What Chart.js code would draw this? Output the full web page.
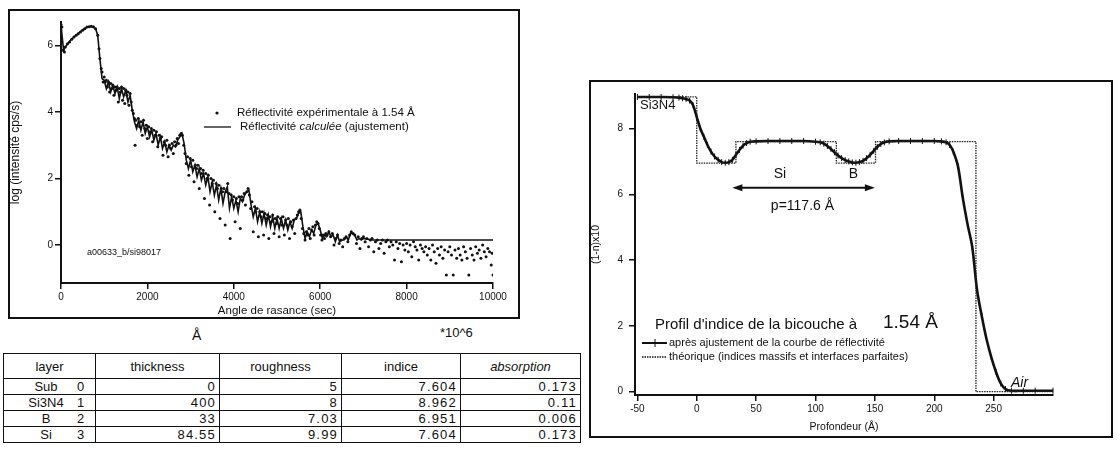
<!DOCTYPE html>
<html lang="fr">
<head>
<meta charset="UTF-8">
<title>Réflectivité et profil d'indice</title>
<script src="https://cdn.jsdelivr.net/npm/chart.js"></script>
<style>
    body { margin: 0; width: 1120px; height: 457px; background: #fff; position: relative; overflow: hidden;
           font-family: "Liberation Sans", Arial, sans-serif; color: #111; }
    .frame { position: absolute; border: 2px solid #111; box-sizing: border-box; }
    canvas { position: absolute; }
    .unit { position: absolute; font-size: 14px; }
    table { position: absolute; left: 3px; top: 353px; border-collapse: collapse; table-layout: fixed; }
    th, td { border: 1.5px solid #111; padding: 0 3px; }
    th { height: 24px; font-weight: normal; font-size: 13px; text-align: center; }
    tbody tr { height: 16px; }
    td { line-height: 13px; font-size: 13px; text-align: right; letter-spacing: 1.2px; }
    td.layer { text-align: left; letter-spacing: 0; }
    td.layer span.n { display: inline-block; width: 62px; text-align: center; margin-left: 8px; }
    th.abs { font-style: italic; }
</style>
</head>
<body>
<div class="frame" style="left:8px; top:9px; width:512px; height:310px;"></div>
<canvas id="refl" width="511" height="308" style="left:8px; top:10px;"></canvas>

<div class="frame" style="left:589px; top:80px; width:524px; height:358px;"></div>
<canvas id="profil" width="522" height="356" style="left:590px; top:81px;"></canvas>

<div class="unit" style="left:192px; top:327px;">Å</div>
<div class="unit" style="left:440px; top:325px; font-size:13px;">*10^6</div>

<table>
    <colgroup>
        <col style="width:92px"><col style="width:124px"><col style="width:122px"><col style="width:119px"><col style="width:120px">
    </colgroup>
    <thead>
        <tr><th>layer</th><th>thickness</th><th>roughness</th><th>indice</th><th class="abs">absorption</th></tr>
    </thead>
    <tbody id="rows"></tbody>
</table>

<script>
// ---- réflectivité (gauche) ----
const expX = [0, 20, 50, 80, 100, 150, 200, 250, 300, 350, 400, 450, 500, 550, 600, 650, 700, 750, 800, 850, 880, 900, 930,
    950, 975, 1000, 1025, 1050, 1075, 1100, 1125, 1150, 1175, 1200, 1225, 1250, 1275, 1300, 1325, 1350, 1375, 1400, 1425,
    1450, 1475, 1500, 1525, 1550, 1575, 1600, 1625, 1650, 1675, 1700, 1715, 1730, 1760, 1790, 1820, 1850, 1880, 1910, 1940,
    1970, 2000, 2030, 2060, 2090, 2120, 2150, 2180, 2210, 2240, 2270, 2300, 2330, 2360, 2390, 2420, 2450, 2480, 2510, 2540,
    2570, 2600, 2630, 2660, 2690, 2720, 2750, 2780, 2810, 2840, 2870, 2900, 2930, 2960, 2990, 3020, 3050, 3080, 3110, 3140,
    3170, 3200, 3230, 3260, 3290, 3320, 3350, 3380, 3410, 3440, 3470, 3500, 3530, 3560, 3590, 3620, 3650, 3680, 3710, 3740,
    3770, 3800, 3830, 3860, 3890, 3915, 3940, 3970, 4000, 4030, 4060, 4090, 4120, 4150, 4180, 4210, 4240, 4270, 4300, 4330,
    4360, 4390, 4420, 4450, 4480, 4510, 4540, 4570, 4600, 4630, 4660, 4690, 4720, 4750, 4780, 4810, 4840, 4870, 4900, 4930,
    4960, 4990, 5020, 5050, 5080, 5110, 5140, 5170, 5200, 5230, 5260, 5290, 5320, 5350, 5380, 5410, 5440, 5470, 5500, 5530,
    5560, 5590, 5620, 5650, 5680, 5710, 5740, 5770, 5800, 5830, 5860, 5890, 5920, 5950, 5980, 6010, 6040, 6070, 6100, 6130,
    6160, 6200, 6240, 6280, 6320, 6360, 6400, 6440, 6480, 6520, 6560, 6600, 6640, 6680, 6720, 6760, 6800, 6840, 6880, 6920,
    6960, 7000, 7040, 7080, 7120, 7160, 7200, 7240, 7280, 7320, 7360, 7400, 7440, 7480, 7520, 7560, 7600, 7640, 7680, 7720,
    7760, 7800, 7840, 7880, 7920, 7960, 8000, 8040, 8080, 8120, 8160, 8200, 8240, 8280, 8320, 8360, 8400, 8440, 8480, 8520,
    8560, 8600, 8640, 8680, 8720, 8760, 8800, 8840, 8880, 8920, 8960, 9000, 9040, 9080, 9120, 9160, 9200, 9240, 9280, 9320,
    9360, 9400, 9440, 9480, 9520, 9560, 9600, 9640, 9680, 9720, 9760, 9800, 9840, 9880, 9920, 9960, 9980, 10000];
const expY = [6.62, 6.55, 5.85, 5.8, 5.95, 6.05, 6.1, 6.18, 6.25, 6.3, 6.35, 6.4, 6.45, 6.5, 6.55, 6.56, 6.57, 6.56, 6.5, 6.3, 5.9, 5.6, 5.3,
    5.2, 4.9, 5.05, 4.9, 4.95, 4.75, 4.9, 4.6, 4.85, 4.7, 4.8, 4.5, 4.75, 4.65, 4.75, 4.3, 4.7, 4.6, 4.75, 4.35,
    4.7, 4.25, 4.65, 4.5, 4.6, 4.2, 4.55, 4.3, 4.05, 3.95, 3.8, 3.0, 3.75, 3.6, 3.8, 3.55, 3.7, 3.3, 3.75, 3.5,
    3.6, 3.2, 3.55, 3.4, 3.5, 3.1, 3.45, 3.3, 3.4, 2.95, 3.3, 3.2, 3.25, 2.7, 3.1, 3.0, 3.15, 2.65, 3.0, 2.9,
    3.05, 2.75, 3.1, 3.0, 3.2, 3.05, 3.3, 3.35, 3.3, 3.0, 2.75, 2.45, 2.65, 2.1, 2.6, 2.35, 2.55, 1.9, 2.4, 2.3,
    2.4, 1.7, 2.3, 2.15, 2.25, 1.4, 2.15, 2.0, 2.1, 1.2, 2.0, 1.85, 1.95, 1.0, 1.85, 1.7, 1.8, 0.8, 1.7, 1.6,
    1.7, 0.6, 1.6, 1.85, 1.55, 0.2, 1.5, 1.35, 1.45, 0.7, 1.4, 1.25, 1.45, 0.5, 1.45, 1.35, 1.55, 1.2, 1.6, 1.7,
    1.5, 1.1, 1.3, 0.4, 1.15, 1.0, 1.1, 0.25, 1.0, 0.85, 1.0, 0.3, 0.95, 0.8, 0.9, 0.2, 0.85, 0.7, 0.9, 0.35,
    0.8, 0.65, 0.85, 0.25, 0.8, 0.6, 0.85, 0.3, 0.75, 0.6, 0.8, 0.2, 0.7, 0.55, 0.75, 0.35, 0.8, 0.9, 1.0, 1.05,
    0.8, 0.5, 0.35, 0.15, 0.4, 0.3, 0.5, 0.2, 0.45, 0.55, 0.3, 0.6, 0.7, 0.65, 0.5, 0.3, 0.15, 0.3, 0.2, 0.35,
    0.3, 0.4, 0.25, 0.35, 0.0, 0.2, 0.3, 0.05, 0.15, -0.05, 0.2, 0.25, 0.1, 0.3, 0.4, 0.35, 0.3, 0.05, 0.25, -0.1,
    0.2, 0.25, 0.1, 0.2, -0.05, 0.15, 0.2, -0.2, 0.1, 0.15, -0.1, 0.05, 0.15, -0.25, 0.1, 0.15, -0.05, 0.1, 0.0, -0.45,
    0.1, -0.1, 0.05, -0.5, 0.0, -0.15, 0.05, -0.2, 0.0, -0.35, 0.1, -0.05, -0.15, -0.45, 0.0, -0.1, -0.2, -0.05, -0.3, -0.1,
    -0.45, 0.0, -0.2, -0.55, -0.1, -0.3, -0.05, -0.4, -0.15, -0.9, -0.2, -0.05, -0.3, -0.9, -0.15, -0.4, -0.1, -0.3, -0.45, -0.05,
    -0.2, -0.4, -0.9, -0.1, -0.3, -0.45, -0.05, -0.25, -0.15, -0.4, 0.0, -0.2, -0.35, -0.1, -0.2, -0.6, -0.25, -0.9];

const calcX = [0, 60, 100, 200, 300, 400, 500, 600, 700, 800, 850,
    900, 950, 1000, 1050, 1100, 1150, 1200, 1250, 1300, 1350, 1400, 1450, 1500, 1550, 1600, 1650, 1700, 1750, 1800, 1850,
    1900, 1950, 2000, 2050, 2100, 2150, 2200, 2250, 2300, 2350, 2400, 2450, 2500, 2550, 2600, 2650, 2700, 2750, 2800, 2850,
    2900, 2950, 3000, 3050, 3100, 3150, 3200, 3250, 3300, 3350, 3400, 3450, 3500, 3550, 3600, 3650, 3700, 3750, 3800, 3850,
    3900, 3950, 4000, 4050, 4100, 4150, 4200, 4250, 4300, 4350, 4400, 4450, 4500, 4550, 4600, 4650, 4700, 4750, 4800, 4850,
    4900, 4950, 5000, 5050, 5100, 5150, 5200, 5250, 5300, 5350, 5400, 5450, 5500, 5550, 5600, 5650, 5700, 5750, 5800, 5850,
    5900, 5950, 6000, 6050, 6100, 6150, 6200, 6250, 6300, 6350, 6400, 6450, 6500, 6550, 6600, 6650, 6700, 6750, 6800, 6850,
    6900, 6950, 7000, 7200, 8000, 9000, 10000];
const calcY = [6.6, 5.85, 5.95, 6.12, 6.25, 6.36, 6.46, 6.54, 6.57, 6.5, 6.3,
    5.6, 5.0, 4.95, 4.7, 4.9, 4.6, 4.8, 4.55, 4.75, 4.4, 4.7, 4.45, 4.65, 4.3, 4.5, 4.05, 3.7, 3.5, 3.75, 3.45,
    3.7, 3.35, 3.55, 3.25, 3.45, 3.15, 3.35, 3.0, 3.25, 2.9, 3.1, 2.8, 3.0, 2.85, 3.0, 2.95, 3.15, 3.25, 3.35, 3.05,
    2.55, 2.3, 2.55, 2.2, 2.4, 2.05, 2.3, 1.95, 2.15, 1.8, 2.05, 1.6, 1.9, 1.5, 1.8, 1.35, 1.7, 1.25, 1.6, 1.75,
    1.1, 1.45, 1.1, 1.35, 1.0, 1.4, 1.3, 1.5, 1.6, 1.65, 1.2, 0.85, 1.1, 0.7, 1.0, 0.65, 0.95, 0.6, 0.9, 0.55,
    0.85, 0.5, 0.8, 0.5, 0.8, 0.5, 0.75, 0.45, 0.7, 0.5, 0.75, 0.8, 0.95, 1.0, 0.55, 0.2, 0.4, 0.25, 0.45, 0.35,
    0.6, 0.65, 0.45, 0.2, 0.3, 0.25, 0.4, 0.25, 0.3, 0.1, 0.3, 0.1, 0.15, 0.15, 0.25, 0.15, 0.35, 0.35, 0.3, 0.15,
    0.2, 0.15, 0.2, 0.15, 0.15, 0.15, 0.15];

const reflXTicks = [0, 2000, 4000, 6000, 8000, 10000];
const reflYTicks = [0, 2, 4, 6];

// ---- profil d'indice (droite) ----
const fitX = [-50, -40, -30, -20, -15, -12, -9, -6, -3, 0, 3, 6, 9, 12, 15, 18, 21, 24, 27, 30, 33, 36, 39, 42, 45, 50,
    60, 70, 80, 90, 100, 104, 107, 110, 113, 116, 119, 122, 125, 128, 131, 134, 137, 140, 143, 146, 149, 152, 155, 158,
    162, 170, 180, 190, 200, 206, 210, 213, 216, 220, 224, 228, 232, 236, 240, 244, 248, 252, 256, 260, 265, 275, 285, 300];
const fitY = [8.96, 8.96, 8.96, 8.95, 8.94, 8.92, 8.9, 8.85, 8.7, 8.35, 8.0, 7.75, 7.5, 7.3, 7.15, 7.05, 6.98, 6.96, 6.98, 7.05,
    7.2, 7.35, 7.48, 7.56, 7.6, 7.61, 7.62, 7.62, 7.62, 7.62, 7.6, 7.58, 7.54, 7.47, 7.38, 7.28, 7.18, 7.1, 7.04, 7.0,
    6.97, 6.96, 6.98, 7.02, 7.1, 7.2, 7.32, 7.44, 7.53, 7.58, 7.61, 7.62, 7.62, 7.62, 7.62, 7.61, 7.58, 7.5, 7.3, 6.85,
    5.9, 5.1, 4.4, 3.1, 2.3, 1.6, 1.05, 0.6, 0.25, 0.08, 0.03, 0.03, 0.03, 0.03];

// profil théorique : couches du tableau (Si3N4 400, B 33, Si 84.55, B 33, Si 84.55)
const theoX = [-50, 0, 0, 33, 33, 117.55, 117.55, 150.55, 150.55, 235.1, 235.1, 300];
const theoY = [8.962, 8.962, 6.951, 6.951, 7.604, 7.604, 6.951, 6.951, 7.604, 7.604, 0, 0];

const profXTicks = [-50, 0, 50, 100, 150, 200, 250];
const profYTicks = [0, 2, 4, 6, 8];

// ---- tableau ----
const layerNames = ['Sub', 'Si3N4', 'B', 'Si'];
const layerIdx = [0, 1, 2, 3];
const thickness = ['0', '400', '33', '84.55'];
const roughness = ['5', '8', '7.03', '9.99'];
const indice = ['7.604', '8.962', '6.951', '7.604'];
const absorption = ['0.173', '0.11', '0.006', '0.173'];

const tbody = document.getElementById('rows');
layerNames.forEach((name, i) => {
    const tr = document.createElement('tr');
    tr.innerHTML = `<td class="layer"><span class="n">${name}</span>${layerIdx[i]}</td>` +
        `<td>${thickness[i]}</td><td>${roughness[i]}</td><td>${indice[i]}</td><td>${absorption[i]}</td>`;
    tbody.appendChild(tr);
});

Chart.defaults.font.family = '"Liberation Sans", Arial, sans-serif';
Chart.defaults.color = '#111';

const zip = (xs, ys) => xs.map((x, i) => ({x: x, y: ys[i]}));
const fixTicks = list => scale => { scale.ticks = list.map(v => ({value: v})); };

// annotations du graphique de gauche
const reflNotes = {
    id: 'reflNotes',
    afterDraw(chart) {
        const c = chart.ctx;
        c.save();
        c.fillStyle = '#111';
        c.strokeStyle = '#111';
        c.textBaseline = 'middle';
        c.beginPath(); c.arc(209, 103, 1.6, 0, Math.PI * 2); c.fill();
        c.font = '11.5px "Liberation Sans"';
        c.fillText('Réflectivité expérimentale à 1.54 Å', 229, 103);
        c.lineWidth = 1.3;
        c.beginPath(); c.moveTo(196, 117); c.lineTo(223, 117); c.stroke();
        let x = 232;
        c.fillText('Réflectivité ', x, 117); x += c.measureText('Réflectivité ').width;
        c.font = 'italic 11.5px "Liberation Sans"';
        c.fillText('calculée', x, 117); x += c.measureText('calculée').width;
        c.font = '11.5px "Liberation Sans"';
        c.fillText(' (ajustement)', x, 117);
        c.font = '9px "Liberation Sans"';
        c.fillText('a00633_b/si98017', 79, 243);
        c.restore();
    }
};

// annotations du profil
const profNotes = {
    id: 'profNotes',
    afterDraw(chart) {
        const c = chart.ctx, sx = chart.scales.x, sy = chart.scales.y;
        c.save();
        c.fillStyle = '#111';
        c.strokeStyle = '#111';
        c.textBaseline = 'middle';
        c.font = '13px "Liberation Sans"';
        c.fillText('Si3N4', 50, 24);
        c.font = '14px "Liberation Sans"';
        c.textAlign = 'center';
        c.fillText('Si', sx.getPixelForValue(70), sy.getPixelForValue(6.6));
        c.fillText('B', sx.getPixelForValue(132), sy.getPixelForValue(6.6));
        c.fillText('p=117.6 Å', sx.getPixelForValue(89), sy.getPixelForValue(5.65));
        // flèche de la période
        const ay = sy.getPixelForValue(6.2), a0 = sx.getPixelForValue(30), a1 = sx.getPixelForValue(150);
        c.lineWidth = 2;
        c.beginPath(); c.moveTo(a0 + 6, ay); c.lineTo(a1 - 6, ay); c.stroke();
        c.beginPath(); c.moveTo(a0, ay); c.lineTo(a0 + 10, ay - 3.5); c.lineTo(a0 + 10, ay + 3.5); c.fill();
        c.beginPath(); c.moveTo(a1, ay); c.lineTo(a1 - 10, ay - 3.5); c.lineTo(a1 - 10, ay + 3.5); c.fill();
        c.textAlign = 'left';
        c.font = '15px "Liberation Sans"';
        c.fillText("Profil d'indice de la bicouche à", 65, 244);
        c.font = '19px "Liberation Sans"';
        c.fillText('1.54 Å', 293, 242);
        // légende
        c.lineWidth = 2;
        c.beginPath(); c.moveTo(52, 262); c.lineTo(77, 262); c.stroke();
        c.lineWidth = 1;
        c.beginPath(); c.moveTo(65, 258); c.lineTo(65, 266); c.stroke();
        c.lineWidth = 1.3;
        c.setLineDash([1.5, 1]);
        c.beginPath(); c.moveTo(52, 276); c.lineTo(77, 276); c.stroke();
        c.setLineDash([]);
        c.font = '11px "Liberation Sans"';
        c.fillText('après ajustement de la courbe de réflectivité', 79, 262);
        c.fillText('théorique (indices massifs et interfaces parfaites)', 79, 276);
        c.font = 'italic 14px "Liberation Sans"';
        c.fillText('Air', 421, 302);
        c.restore();
    }
};

const axisCommon = {
    type: 'linear',
    grid: { display: true, drawOnChartArea: false, drawTicks: true, tickLength: 6, color: '#111', lineWidth: 1.5 },
    border: { display: true, color: '#111', width: 2 },
    ticks: { font: { size: 10 }, color: '#111', padding: 2, maxRotation: 0, callback: v => String(v) }
};

new Chart(document.getElementById('refl'), {
    type: 'scatter',
    data: {
        datasets: [
            { label: 'Réflectivité expérimentale à 1.54 Å', data: zip(expX, expY), showLine: false,
              pointRadius: 1.5, pointBackgroundColor: '#111', pointBorderWidth: 0 },
            { label: 'Réflectivité calculée (ajustement)', data: zip(calcX, calcY), showLine: true,
              borderColor: '#111', borderWidth: 1.6, pointRadius: 0, tension: 0 }
        ]
    },
    plugins: [reflNotes],
    options: {
        responsive: false,
        animation: false,
        layout: { padding: { top: 12, right: 26, left: 0, bottom: 0 } },
        plugins: { legend: { display: false }, tooltip: { enabled: false } },
        scales: {
            x: Object.assign({}, axisCommon, {
                min: 0, max: 10000,
                afterBuildTicks: fixTicks(reflXTicks),
                afterFit: s => { s.height = 35; },
                title: { display: true, text: 'Angle de rasance (sec)', font: { size: 11.5 }, padding: 0 }
            }),
            y: Object.assign({}, axisCommon, {
                min: -1.14, max: 6.7,
                afterBuildTicks: fixTicks(reflYTicks),
                afterFit: s => { s.width = 53; },
                title: { display: true, text: 'log (intensité cps/s)', font: { size: 12 }, padding: 0 }
            })
        }
    }
});

new Chart(document.getElementById('profil'), {
    type: 'scatter',
    data: {
        datasets: [
            { label: 'théorique (indices massifs et interfaces parfaites)', data: zip(theoX, theoY), showLine: true,
              borderColor: '#222', borderWidth: 1.3, borderDash: [1.5, 1], pointRadius: 0, tension: 0 },
            { label: 'après ajustement de la courbe de réflectivité', data: zip(fitX, fitY), showLine: true,
              borderColor: '#111', borderWidth: 2.6, pointStyle: 'line', pointRotation: 90, pointRadius: 3,
              pointBorderColor: '#111', pointBorderWidth: 1, tension: 0.3 }
        ]
    },
    plugins: [profNotes],
    options: {
        responsive: false,
        animation: false,
        clip: false,
        layout: { padding: { top: 13, right: 59, left: 0, bottom: 0 } },
        plugins: { legend: { display: false }, tooltip: { enabled: false } },
        scales: {
            x: Object.assign({}, axisCommon, {
                min: -52, max: 300,
                afterBuildTicks: fixTicks(profXTicks),
                afterFit: s => { s.height = 42; },
                title: { display: true, text: 'Profondeur (Å)', font: { size: 10.5 }, padding: { top: 3 } }
            }),
            y: Object.assign({}, axisCommon, {
                min: -0.1, max: 9.05,
                afterBuildTicks: fixTicks(profYTicks),
                afterFit: s => { s.width = 45; },
                ticks: Object.assign({}, axisCommon.ticks, { padding: 6 }),
                title: { display: true, text: '(1-n)x10', font: { size: 10.5 }, padding: 0 }
            })
        }
    }
});
</script>
</body>
</html>
